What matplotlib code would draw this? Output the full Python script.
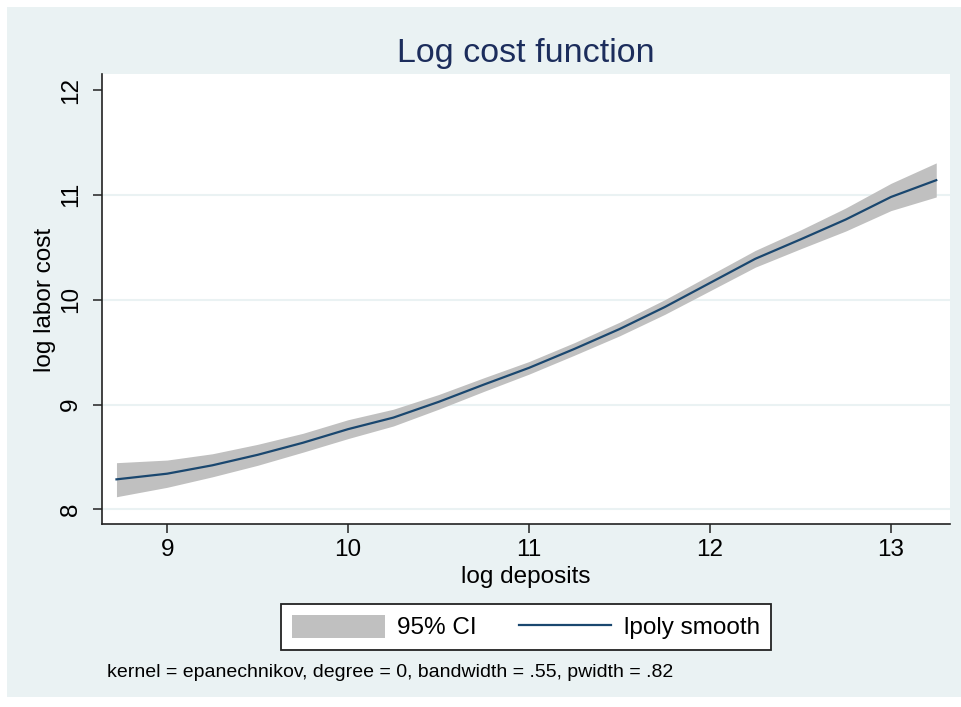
import matplotlib
matplotlib.use("Agg")
import matplotlib.pyplot as plt
from matplotlib.patches import Rectangle, Patch
from matplotlib.lines import Line2D

plt.rcParams['font.family'] = ['Liberation Sans', 'DejaVu Sans']

# values
log_deposits = [8.72, 9.0, 9.25, 9.5, 9.75, 10.0, 10.25, 10.5, 10.75, 11.0,
                11.25, 11.5, 11.75, 12.0, 12.25, 12.5, 12.75, 13.0, 13.25]
smooth = [8.286, 8.34, 8.42, 8.52, 8.635, 8.765, 8.875, 9.025, 9.19, 9.35,
          9.53, 9.72, 9.93, 10.16, 10.39, 10.575, 10.765, 10.98, 11.14]
ci_lo = [8.12, 8.21, 8.31, 8.42, 8.545, 8.675, 8.795, 8.955, 9.125, 9.29,
         9.47, 9.655, 9.86, 10.085, 10.31, 10.485, 10.655, 10.85, 10.98]
ci_hi = [8.445, 8.47, 8.53, 8.62, 8.725, 8.855, 8.955, 9.095, 9.255, 9.41,
         9.59, 9.785, 10.0, 10.235, 10.47, 10.665, 10.875, 11.11, 11.305]
xticks = [9, 10, 11, 12, 13]
yticks = [8, 9, 10, 11, 12]

W, H = 961, 707
fig = plt.figure(figsize=(W / 100, H / 100), dpi=100, facecolor='white')
bg = '#EAF2F3'
fig.patches.append(Rectangle((7 / W, 10 / H), 1 - 7 / W, 1 - 17 / H,
                             transform=fig.transFigure, facecolor=bg,
                             edgecolor='none', zorder=-10))

ax = fig.add_axes([102 / W, (H - 524) / H, (950 - 102) / W, (524 - 74) / H])
ax.set_facecolor('white')
ax.fill_between(log_deposits, ci_lo, ci_hi, color='#C0C0C0', linewidth=0, zorder=2)
ax.plot(log_deposits, smooth, color='#1A476F', linewidth=1.6, zorder=3)

ax.set_xlim(8.64, 13.326)
ax.set_ylim(7.86, 12.153)
ax.set_xticks(xticks)
ax.set_yticks(yticks)
ax.tick_params(axis='both', labelsize=17.5, length=6.5, width=1.1,
               color='#222222', labelcolor='black')
ax.tick_params(axis='x', pad=4)
ax.tick_params(axis='y', pad=8)
plt.setp(ax.get_yticklabels(), rotation=90, va='center')

ax.grid(axis='y', color=bg, linewidth=1.5, zorder=1)
ax.get_ygridlines()[-1].set_visible(False)
ax.set_axisbelow(True)

for s in ['top', 'right']:
    ax.spines[s].set_visible(False)
for s in ['left', 'bottom']:
    ax.spines[s].set_color('#222222')
    ax.spines[s].set_linewidth(1.2)

ax.set_xlabel('log deposits', fontsize=17.5)
ax.set_ylabel('log labor cost', fontsize=17.5)
ax.xaxis.set_label_coords(0.5, -0.093)
ax.yaxis.set_label_coords(-0.054, 0.498)

fig.text(526 / W, 1 - 62 / H, 'Log cost function', fontsize=24.5,
         color='#1C2D5C', ha='center', va='baseline')

handles = [Patch(facecolor='#C0C0C0', edgecolor='none'),
           Line2D([], [], color='#1A476F', linewidth=1.6)]
leg = fig.legend(handles, ['95% CI', 'lpoly smooth'], ncol=2, loc='center',
                 bbox_to_anchor=(526 / W, 1 - 627 / H), fontsize=17.5,
                 frameon=True, fancybox=False, framealpha=1, handlelength=3.8,
                 handleheight=1.07, handletextpad=0.5, columnspacing=1.75,
                 borderpad=0.45)
leg.get_frame().set_edgecolor('#222222')
leg.get_frame().set_linewidth(1.3)
leg.get_frame().set_facecolor('white')

fig.text(107 / W, 1 - 677 / H,
         'kernel = epanechnikov, degree = 0, bandwidth = .55, pwidth = .82',
         fontsize=14, ha='left', va='baseline')

fig.savefig('out.png', dpi=100, facecolor=fig.get_facecolor())
